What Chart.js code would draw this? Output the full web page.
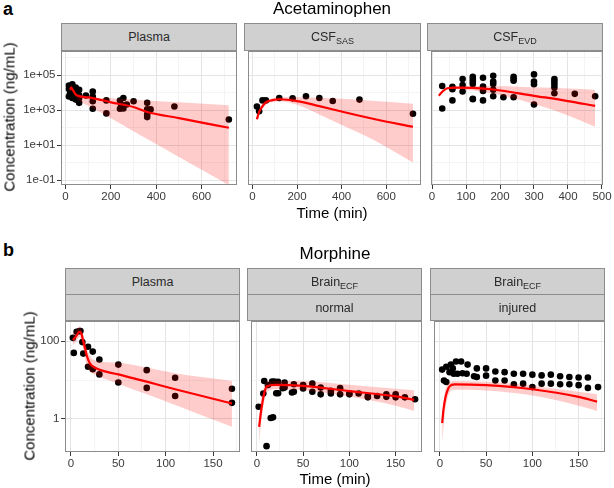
<!DOCTYPE html>
<html>
<head>
<meta charset="utf-8">
<script src="https://cdn.jsdelivr.net/npm/chart.js@4.4.1/dist/chart.umd.min.js"></script>
<style>
  body { margin: 0; background: #fff; font-family: 'Liberation Sans', Arial, sans-serif; }
  #fig { position: relative; width: 614px; height: 488px; overflow: hidden; }
  #fig canvas { position: absolute; }
  .txt { position: absolute; white-space: nowrap; line-height: 1; color: #000; }
  .strip { position: absolute; box-sizing: border-box; border: 1px solid #8c8c8c; background: #d0d0d0;
           color: #2a2a2a; font-size: 12.5px; display: flex; align-items: center; justify-content: center; }
  .strip sub { font-size: 9px; position: relative; top: 3px; vertical-align: baseline; line-height: 0; }
</style>
</head>
<body>
<div id="fig"></div>
<script>
// ══════════════════════════════════════════════
//  DATA  (time in min, concentration in ng/mL)
// ══════════════════════════════════════════════

// a — Acetaminophen, Plasma
const aPlasmaT = [15,15,15,20,20,30,30,30,30,40,45,45,45,50,60,60,60,60,90,120,120,120,120,180,180,240,240,245,255,255,270,300,360,360,360,360,375,480,720];
const aPlasmaC = [25000,16000,6000,9300,22000,30000,12000,7100,4900,12600,19500,7600,4000,8900,14500,7000,4900,2600,6900,11700,6000,3200,1200,3600,650,3500,1200,2100,4900,1230,2100,3200,2600,1100,580,400,1100,1600,290];
const aPlasmaFitT = [20,25,30,45,60,120,200,300,360,500,720];
const aPlasmaFit  = [14500,19500,15800,7900,6300,4900,2800,1500,780,350,98];
const aPlasmaHi   = [22000,28000,22000,10000,7900,5500,4800,4000,3600,2800,1900];
const aPlasmaLo   = [11200,13200,11200,5600,3500,1300,340,62,22,2.1,0.052];

// a — Acetaminophen, CSF SAS
const aSasT = [20,30,45,60,120,180,240,300,360,480,720];
const aSasC = [1600,870,3600,3600,4900,4700,6200,4900,3300,4000,620];
const aSasFitT = [20,30,40,60,90,120,200,300,400,550,720];
const aSasFit  = [300,800,1350,2800,3700,4200,3300,1700,830,300,112];
const aSasHi   = [350,1000,1800,3500,4800,5500,5500,5100,4500,3300,2300];
const aSasLo   = [250,630,1000,2100,2800,3200,2000,560,140,18,1.02];

// a — Acetaminophen, CSF EVD
const aEvdT = [30,30,60,60,60,90,90,90,120,120,120,120,120,120,150,150,150,150,180,180,180,180,180,210,240,240,240,240,300,300,300,300,360,360,360,360,360,420,480];
const aEvdC = [24000,1230,21400,15800,3600,60000,27500,11700,81000,60000,42700,31600,4500,4200,71000,22400,12600,3600,91000,42700,31600,14500,6200,5400,81000,60000,48000,5400,110000,42700,30000,2100,60000,42700,30000,19500,9300,8500,6200];
const aEvdFitT = [20,30,45,70,120,180,300,400,480];
const aEvdFit  = [6600,11200,17800,19500,18600,15100,6600,3300,1740];
const aEvdHi   = [7100,12600,20000,22400,23400,24000,20000,17000,14500];
const aEvdLo   = [6200,10000,15100,15800,13200,8900,2240,500,112];

// b — Morphine, Plasma
const bPlasmaT = [2,3,6,9,10,12,13,18,18,23,23,30,30,50,50,80,80,110,110,170,170];
const bPlasmaC = [122,50,174,182,182,95,48,72,22,54,19,34,14,25,8.7,18,6.3,11.5,3.9,6.0,2.6];
const bPlasmaFitT = [2,5,9,11,13,15,17,20,25,50,80,110,170];
const bPlasmaFit  = [107,129,174,158,100,63,40,27,21,14,9.1,5.8,2.5];
const bPlasmaHi   = [158,190,240,214,141,95,63,42,32,28,21,15,9.5];
const bPlasmaLo   = [79,95,126,100,63,35,22,17,14,8.1,4.3,2.3,0.63];

// b — Morphine, Brain ECF normal
const bNormT = [2,7,8,10.5,12,15,16.5,17.5,19,21,23,23,28,30,30,38,40,40,50,50,60,60,69,69,80,80,90,90,100,100,110,120,120,130,140,140,150,150,160,171];
const bNormC = [2.07,4.5,9.5,0.20,7.5,1.06,9.2,1.1,9.2,4.6,4.6,9.0,6.2,8.6,6.4,4.8,5.0,7.8,6.1,7.5,8.1,5.0,6.4,4.3,5.3,4.5,6.2,4.3,4.5,4.3,4.5,3.9,3.6,3.9,4.3,3.7,4.3,3.6,3.6,3.2];
const bNormFitT = [2.5,4,6,8,11,20,50,100,150,170];
const bNormFit  = [0.63,1.26,2.6,4.6,6.9,7.5,7.1,5.2,3.8,3.1];
const bNormHi   = [1.1,2.5,4.5,7.1,8.9,9.5,9.5,7.6,6.0,5.5];
const bNormLo   = [0.23,0.56,1.4,2.8,5.0,5.8,5.5,3.8,2.2,1.6];

// b — Morphine, Brain ECF injured
const bInjT = [2.5,4.5,7,7,10.5,12,14,15,17.5,19,23,24.5,29,30,37,40,40,50,50,60,60,70,70,80,80,90,90,100,100,110,110,120,120,130,130,140,140,150,150,160,160,171];
const bInjC = [18.6,9.8,22,8.9,16,25,20,14.5,30,14.5,30,15,14.5,25,12.6,20,12,20,13,16.6,9.8,16,9.8,14.5,7.8,14.5,8.1,13.8,6.6,13.2,8.1,13.8,8.1,12.6,7.8,12,7.8,11.7,7.4,11.7,6.3,6.6];
const bInjFitT = [2.5,4,6,8,10.5,16,50,100,150,170];
const bInjFit  = [0.78,1.78,3.5,5.2,6.9,7.8,7.4,5.8,3.7,2.8];
const bInjHi   = [1.1,2.8,5.6,7.6,8.9,9.5,9.1,7.2,5.0,4.3];
const bInjLo   = [0.23,0.63,1.8,3.2,4.8,5.6,5.4,4.0,2.2,1.6];

// tick values / labels ('' = minor grid line)
const yTicksA  = [0.1, 1, 10, 100, 1e3, 1e4, 1e5, 1e6];
const yLabelsA = ['1e-01', '', '1e+01', '', '1e+03', '', '1e+05', ''];
const yTicksB  = [1, 10, 100];
const yLabelsB = ['1', '', '100'];
const xTicksA  = [0, 100, 200, 300, 400, 500, 600, 700];
const xLabelsA = ['0', '', '200', '', '400', '', '600', ''];
const xTicksEvd  = [0, 50, 100, 150, 200, 250, 300, 350, 400, 450, 500];
const xLabelsEvd = ['0', '', '100', '', '200', '', '300', '', '400', '', '500'];
const xTicksB  = [0, 25, 50, 75, 100, 125, 150, 175];
const xLabelsB = ['0', '', '50', '', '100', '', '150', ''];

const stripA    = ['Plasma', 'CSF<sub>SAS</sub>', 'CSF<sub>EVD</sub>'];
const stripBTop = ['Plasma', 'Brain<sub>ECF</sub>', 'Brain<sub>ECF</sub>'];
const stripBSub = ['', 'normal', 'injured'];

// ══════════════════════════════════════════════
//  HELPERS
// ══════════════════════════════════════════════
Chart.defaults.font.family = "'Liberation Sans', Arial, sans-serif";
const fig = document.getElementById('fig');
const xy = (t, c) => t.map((v, i) => ({ x: v, y: c[i] }));
const TICK_COL = '#3a3a3a', GRID_MAJ = '#e4e4e4', GRID_MIN = '#f1f1f1', FRAME = '#8c8c8c';

function text(html, css) {
  const d = document.createElement('div');
  d.className = 'txt'; d.innerHTML = html;
  Object.assign(d.style, css);
  fig.appendChild(d);
}

function strip(html, L, R, top, h) {
  const d = document.createElement('div');
  d.className = 'strip'; d.innerHTML = '<span>' + html + '</span>';
  Object.assign(d.style, { left: L + 'px', top: top + 'px', width: (R - L) + 'px', height: h + 'px' });
  fig.appendChild(d);
}

const frame = {
  id: 'frame',
  afterDraw(c) {
    const { ctx, chartArea: a } = c;
    ctx.save();
    ctx.strokeStyle = FRAME; ctx.lineWidth = 1;
    ctx.strokeRect(a.left + 0.5, a.top + 0.5, a.right - a.left - 1, a.bottom - a.top - 1);
    ctx.restore();
  }
};

function axis(ticks, labels, min, max, type, size, isX, showLabels) {
  const lab = v => { const i = ticks.indexOf(v); return i < 0 ? '' : labels[i]; };
  const major = v => lab(v) !== '';
  return {
    type, min, max, bounds: 'data',
    position: isX ? 'bottom' : 'left',
    afterBuildTicks: s => { s.ticks = ticks.map(v => ({ value: v })); },
    afterFit: s => {
      if (isX) s.height = size; else s.width = size;
      s.paddingLeft = s.paddingRight = s.paddingTop = s.paddingBottom = 0;
    },
    border: { display: false },
    grid: {
      color: c => (c.tick && major(c.tick.value)) ? GRID_MAJ : GRID_MIN,
      lineWidth: c => (c.tick && major(c.tick.value)) ? 1 : 0.8,
      drawTicks: showLabels, tickLength: 4,
      tickColor: c => (c.tick && major(c.tick.value)) ? TICK_COL : 'rgba(0,0,0,0)'
    },
    ticks: {
      display: showLabels, autoSkip: false, maxRotation: 0, padding: isX ? 1 : 1.5,
      color: TICK_COL, font: { size: 11.5 },
      callback: v => lab(v)
    }
  };
}

function panel(p) {
  const [L, T, R, B] = p.rect;
  const padT = 3, padR = 12, xh = 22;
  const w = R - L + p.yw + padR, h = B - T + padT + xh;
  const cv = document.createElement('canvas');
  cv.width = w; cv.height = h;
  Object.assign(cv.style, { left: (L - p.yw) + 'px', top: (T - padT) + 'px', width: w + 'px', height: h + 'px' });
  fig.appendChild(cv);
  const [ft, fc, lo, hi] = p.fit;
  new Chart(cv, {
    type: 'scatter',
    data: { datasets: [
      { data: xy(ft, fc), showLine: true, borderColor: '#ff0000', borderWidth: 2.2, pointRadius: 0,
        cubicInterpolationMode: 'monotone', order: 0 },
      { data: xy(ft, hi), showLine: true, borderWidth: 0, borderColor: 'rgba(0,0,0,0)', pointRadius: 0,
        cubicInterpolationMode: 'monotone', fill: false, order: 1 },
      { data: xy(ft, lo), showLine: true, borderWidth: 0, borderColor: 'rgba(0,0,0,0)', pointRadius: 0,
        cubicInterpolationMode: 'monotone', fill: '-1', backgroundColor: 'rgba(255,0,0,0.2)', order: 1 },
      { data: xy(p.obs[0], p.obs[1]), pointRadius: 3.3, backgroundColor: '#000', borderWidth: 0, order: 2 }
    ] },
    options: {
      responsive: false, animation: false, devicePixelRatio: 1,
      layout: { padding: { top: padT, right: padR, left: 0, bottom: 0 } },
      plugins: { legend: { display: false }, tooltip: { enabled: false } },
      scales: {
        x: axis(p.x[0], p.x[1], p.x[2], p.x[3], 'linear', xh, true, true),
        y: axis(p.y[0], p.y[1], p.y[2], p.y[3], 'logarithmic', p.yw, false, p.yw > 0)
      }
    },
    plugins: [frame]
  });
}

// ══════════════════════════════════════════════
//  PANEL a — Acetaminophen
// ══════════════════════════════════════════════
const yA = [yTicksA, yLabelsA, Math.pow(10, -1.28), Math.pow(10, 6.38)];
const rectsA = [[61, 50, 237, 185], [244, 50, 421, 185], [427, 50, 603, 185]];
panel({ rect: rectsA[0], yw: 61, x: [xTicksA, xLabelsA, -20, 756], y: yA,
        obs: [aPlasmaT, aPlasmaC], fit: [aPlasmaFitT, aPlasmaFit, aPlasmaLo, aPlasmaHi] });
panel({ rect: rectsA[1], yw: 0, x: [xTicksA, xLabelsA, -20, 756], y: yA,
        obs: [aSasT, aSasC], fit: [aSasFitT, aSasFit, aSasLo, aSasHi] });
panel({ rect: rectsA[2], yw: 0, x: [xTicksEvd, xLabelsEvd, -3, 503], y: yA,
        obs: [aEvdT, aEvdC], fit: [aEvdFitT, aEvdFit, aEvdLo, aEvdHi] });
rectsA.forEach((r, i) => strip(stripA[i], r[0], r[2], 23, 28));

// ══════════════════════════════════════════════
//  PANEL b — Morphine
// ══════════════════════════════════════════════
const yB = [yTicksB, yLabelsB, Math.pow(10, -0.85), Math.pow(10, 2.52)];
const xB = [xTicksB, xLabelsB, -6.3, 178.5];
const rectsB = [[65, 320, 240, 452], [247, 320, 422, 452], [430, 320, 605, 452]];
panel({ rect: rectsB[0], yw: 65, x: xB, y: yB,
        obs: [bPlasmaT, bPlasmaC], fit: [bPlasmaFitT, bPlasmaFit, bPlasmaLo, bPlasmaHi] });
panel({ rect: rectsB[1], yw: 0, x: xB, y: yB,
        obs: [bNormT, bNormC], fit: [bNormFitT, bNormFit, bNormLo, bNormHi] });
panel({ rect: rectsB[2], yw: 0, x: xB, y: yB,
        obs: [bInjT, bInjC], fit: [bInjFitT, bInjFit, bInjLo, bInjHi] });
rectsB.forEach((r, i) => {
  strip(stripBTop[i], r[0], r[2], 268, 27);
  strip(stripBSub[i], r[0], r[2], 294, 27);
});

// ══════════════════════════════════════════════
//  TEXT
// ══════════════════════════════════════════════
text('a', { left: '3px', top: '0px', fontSize: '18px', fontWeight: 'bold' });
text('b', { left: '3px', top: '241px', fontSize: '18px', fontWeight: 'bold' });
text('Acetaminophen', { left: '332px', top: '0px', fontSize: '17px', transform: 'translateX(-50%)' });
text('Morphine', { left: '335px', top: '245px', fontSize: '17px', transform: 'translateX(-50%)' });
text('Time (min)', { left: '332px', top: '205px', fontSize: '15px', transform: 'translateX(-50%)' });
text('Time (min)', { left: '335px', top: '471px', fontSize: '15px', transform: 'translateX(-50%)' });
text('Concentration (ng/mL)', { left: '9px', top: '117px', fontSize: '15px', transform: 'translate(-50%,-50%) rotate(-90deg)' });
text('Concentration (ng/mL)', { left: '29px', top: '386px', fontSize: '15px', transform: 'translate(-50%,-50%) rotate(-90deg)' });
</script>
</body>
</html>
